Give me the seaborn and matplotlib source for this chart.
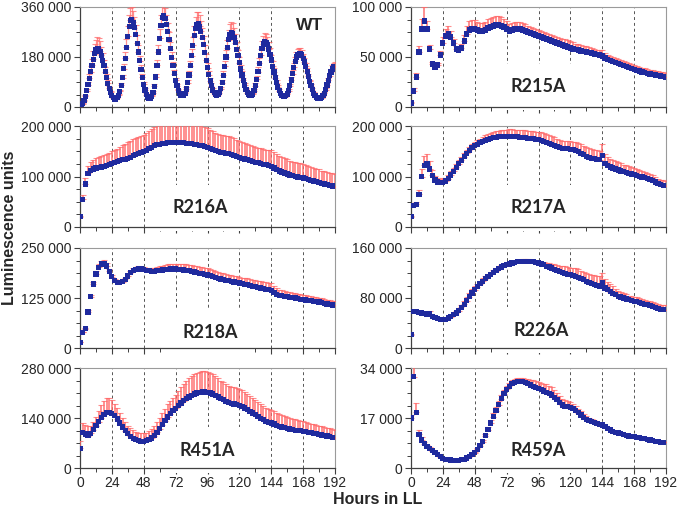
import numpy as np
import matplotlib
matplotlib.use("Agg")
import matplotlib.pyplot as plt
from matplotlib.ticker import MultipleLocator, FuncFormatter
import seaborn as sns

# sampling times (hours in LL): WT read every hour, mutants every 2 h
wt_hours = np.arange(0, 193, 1)
hours = np.arange(0, 193, 2)

# mean luminescence (thousands) and upper SD (thousands)
wt_mean = [3, 6, 12, 22, 38, 58, 80, 103, 127, 150, 172, 192,
           205, 212, 209, 200, 186, 168, 148, 127, 106, 86, 68, 53,
           41, 33, 29, 29, 33, 42, 57, 78, 105, 138, 175, 215,
           255, 290, 312, 316, 305, 285, 260, 230, 198, 166, 135, 107,
           82, 61, 45, 35, 31, 32, 38, 52, 75, 108, 150, 198,
           248, 292, 322, 328, 318, 298, 272, 242, 210, 178, 148, 120,
           96, 76, 60, 49, 42, 40, 42, 50, 65, 87, 115, 148,
           185, 222, 256, 282, 297, 299, 290, 272, 250, 224, 196, 168,
           141, 116, 94, 76, 61, 51, 45, 43, 45, 52, 66, 87,
           114, 146, 180, 213, 243, 262, 269, 264, 250, 231, 208, 184,
           160, 137, 115, 96, 79, 64, 52, 44, 40, 41, 47, 59,
           77, 100, 127, 157, 186, 211, 228, 235, 233, 224, 209, 190,
           169, 147, 126, 106, 88, 72, 59, 48, 41, 37, 37, 40,
           47, 59, 76, 97, 120, 143, 164, 180, 190, 194, 193, 187,
           176, 162, 146, 128, 110, 92, 76, 62, 50, 41, 35, 32,
           31, 31, 34, 40, 50, 63, 79, 96, 112, 126, 137, 144, 147]
wt_err = [0.5, 1, 2, 3, 5, 8, 11, 15, 19, 24, 29, 34,
          38, 40, 39, 36, 31, 26, 21, 17, 13, 10, 7, 5,
          4, 3, 3, 3, 3, 4, 5, 8, 12, 17, 23, 30,
          37, 42, 44, 44, 42, 38, 34, 29, 24, 19, 15, 11,
          8, 6, 4, 3, 3, 3, 4, 5, 8, 12, 18, 26,
          33, 38, 40, 40, 38, 35, 31, 27, 23, 19, 15, 12,
          9, 7, 5, 4, 4, 4, 4, 5, 7, 10, 14, 19,
          25, 31, 37, 41, 44, 44, 42, 39, 35, 31, 27, 23,
          19, 15, 12, 9, 7, 5, 4, 4, 4, 5, 7, 10,
          14, 19, 24, 29, 34, 37, 38, 37, 34, 31, 27, 23,
          20, 16, 13, 10, 8, 6, 5, 4, 4, 4, 5, 6,
          9, 12, 16, 20, 24, 27, 29, 30, 30, 28, 26, 23,
          20, 17, 14, 11, 9, 7, 5, 4, 4, 3, 3, 4,
          5, 6, 8, 10, 12, 14, 16, 17, 18, 18, 18, 17,
          16, 15, 13, 11, 9, 7, 6, 5, 4, 3, 3, 3,
          3, 3, 3, 4, 5, 6, 8, 9, 11, 12, 13, 14, 15]

r215a_mean = [4, 16, 30, 55, 78, 86, 78, 58, 43, 40,
              42, 52, 64, 71, 73, 70, 64, 58, 57, 59,
              66, 73, 77, 78, 78, 77, 76, 76, 77, 79,
              80, 81, 82, 82, 81, 80, 78, 76, 77, 78,
              78, 78, 77, 76, 75, 74, 73, 72, 71, 70,
              69, 68, 67, 66, 65, 64, 63, 62, 61, 60,
              59, 58, 57.5, 57, 56, 55.5, 55, 54.5, 54, 53,
              52.5, 52, 51, 49, 47.5, 46.5, 45.5, 44.5, 43.5, 42.5,
              41.5, 40.5, 39.5, 38.5, 37.5, 36.5, 36, 35, 34.5, 33.5,
              33, 32.5, 32, 31.5, 31, 30.5, 30]
r215a_err = [1, 3, 4, 6, 10, 14, 8, 4, 2, 1,
             2, 4, 6, 7, 8, 6, 4, 3, 3, 4,
             6, 8, 9, 9, 9, 8, 8, 8, 8, 9,
             9, 9, 9, 9, 9, 8, 8, 7, 7, 7,
             7, 7, 7, 7, 6, 6, 6, 6, 6, 6,
             6, 6, 6, 6, 6, 6, 6, 6, 7, 7,
             7, 7, 6, 6, 6, 6, 6, 6, 5, 5,
             5, 5, 6, 5, 5, 5, 5, 5, 5, 4.5,
             4.5, 4.5, 4.5, 4.5, 4.5, 4.5, 4.5, 4.5, 4.5, 4.5,
             4.5, 4.5, 4.5, 4.5, 4.5, 4.5, 4.5]

r216a_mean = [20, 55, 85, 106, 112, 115, 117, 118, 119, 120,
              122, 124, 126, 127, 129, 131, 133, 134, 136, 138,
              141, 143, 145, 147, 149, 152, 155, 158, 161, 163,
              164, 165, 166, 167, 168, 168, 168, 168, 167.5, 167,
              166, 166, 165, 164, 163, 162, 161, 159, 157, 155,
              153, 151, 149.5, 148, 147, 146, 145, 144, 142, 140,
              138, 136, 134.5, 133, 131, 129.5, 128, 127, 126, 124.5,
              123, 122, 120, 117, 114, 111, 109, 107, 105, 103,
              101.5, 100, 99, 98, 97, 95.5, 94, 92.5, 91, 89.5,
              88, 86.5, 85, 83.5, 82, 81, 80]
r216a_err = [2, 8, 12, 15, 17, 18, 20, 21, 21, 22,
             22, 23, 24, 25, 26, 27, 29, 31, 32, 33,
             34, 34, 34, 34, 34, 35, 36, 37, 38, 38,
             38, 38, 38, 38, 38, 38, 38, 38, 39, 39,
             40, 40, 40, 40, 40, 40, 40, 40, 40, 38,
             37, 36, 35, 35, 35, 35, 35, 35, 34, 33,
             32, 32, 32, 31, 31, 31, 30, 30, 30, 30,
             30, 30, 32, 31, 30, 30, 30, 29, 29, 28,
             28, 28, 28, 28, 28, 27, 27, 27, 26, 26,
             26, 25, 25, 25, 25, 25, 25]

r217a_mean = [20, 42, 45, 65, 100, 122, 125, 115, 102, 93,
              89, 88, 88.5, 91, 96, 103, 110, 118, 125, 132,
              139, 146, 152, 157, 161, 164, 167, 170, 172, 174,
              176, 177, 178, 179, 179.5, 180, 180, 180, 179.5, 179,
              178.5, 178, 177, 176.5, 176, 175.5, 175, 174, 173, 172,
              170, 168, 166, 164, 162, 159, 157, 156, 155.5, 155,
              154, 153, 151, 149, 146, 143, 140, 138, 136, 135,
              134, 133, 142, 126, 122, 119, 117, 115, 113, 111,
              109.5, 108, 106.5, 105, 104, 102, 100.5, 99, 97.5, 96,
              94, 92, 89, 86, 84, 82.5, 82]
r217a_err = [2, 4, 5, 8, 14, 19, 20, 15, 10, 8,
             8, 8, 8, 7, 7, 7, 7, 7, 7, 7,
             7, 7, 7, 7, 7, 8, 8, 9, 10, 10,
             11, 11, 12, 12, 12, 13, 13, 14, 14, 14,
             14, 14, 15, 15, 15, 15, 15, 15, 16, 16,
             16, 16, 16, 16, 16, 16, 16, 15, 15, 15,
             16, 16, 17, 17, 18, 18, 18, 18, 18, 18,
             18, 18, 22, 18, 17, 16, 16, 16, 15, 15,
             14, 14, 14, 13, 13, 12, 12, 12, 11, 11,
             11, 10, 10, 10, 10, 10, 10]

r218a_mean = [14, 39, 48, 90, 128, 160, 185, 202, 210, 211,
              205, 192, 178, 168, 164, 164, 166, 172, 180, 188,
              194, 197, 198, 197.5, 196, 194, 193, 192, 192, 193,
              194, 195, 196, 197, 197.5, 197.5, 197.5, 197, 196, 195,
              194, 193, 191.5, 190, 188.5, 187, 185.5, 184, 182.5, 180.5,
              178.5, 176.5, 174.5, 172.5, 171, 169.5, 168, 166.5, 165, 164,
              162.5, 161, 159.5, 158, 156, 154.5, 153, 151.5, 150, 148.5,
              147, 145.5, 144, 138, 134, 132, 130.5, 129, 128, 127,
              126, 125, 123.5, 122, 121, 120, 119, 118, 117, 116,
              115, 113, 111.5, 110, 108.5, 107.5, 107]
r218a_err = [1, 2, 3, 4, 5, 6, 7, 8, 8, 8,
             7, 6, 5, 4, 4, 4, 4, 4, 5, 5,
             6, 6, 6, 6, 7, 7, 8, 8, 8, 9,
             10, 11, 12, 13, 13, 13, 13.5, 14, 14, 14.5,
             15, 15, 15.5, 16, 16, 16.5, 17, 17, 17, 16.5,
             16.5, 16, 16, 15.5, 15.5, 15, 15, 15, 15, 15,
             15, 15, 15.5, 16, 16, 16.5, 17, 17, 17, 17,
             17, 17, 18, 16, 15, 14, 14, 13.5, 13, 13,
             12.5, 12.5, 12, 12, 12, 12, 11.5, 11.5, 11.5, 11,
             11, 11, 11, 11, 11, 11, 11]

r226a_mean = [21, 58, 58, 57, 56, 55, 54, 55, 51, 49,
              47, 46, 45.5, 46, 48, 50, 53, 56, 60, 65,
              70, 76, 82, 88, 93, 98, 103, 107, 111, 115,
              118, 121, 124, 127, 129.5, 131.5, 133, 134.5, 136, 137,
              138, 138.5, 139, 139, 139, 138.5, 138, 137, 136, 134.5,
              133, 131, 129.5, 128, 126, 124.5, 123, 121, 119.5, 118,
              117, 116, 114.5, 113, 111, 109, 107, 105, 103, 101.5,
              100, 99, 104, 96, 93, 90, 87.5, 85, 83, 81.5,
              80, 78.5, 77, 76, 75, 74, 73, 71.5, 70, 69,
              67.5, 66.5, 65, 63.5, 62, 61.5, 61]
r226a_err = [1, 2, 2, 2, 2, 2, 2, 4, 2, 1.5,
             1.5, 1.5, 1.5, 2, 2, 2.5, 3, 3, 3.5, 4,
             4.5, 5, 5.5, 6, 6, 5, 5, 4.5, 4.5, 4,
             4, 3.5, 3.5, 3, 3, 3, 3, 3, 3, 3,
             3, 3, 3, 3, 3, 3, 3, 3, 3, 3.5,
             4, 5, 6, 7, 8, 8.5, 9, 10, 11, 11,
             11, 12, 13, 13, 13, 13, 13.5, 14, 14.5, 15,
             15, 15.5, 16, 14, 13, 12, 11, 10, 9, 8.5,
             8, 7.5, 7, 7, 7, 7, 7, 7, 7, 7,
             7, 7, 7.5, 7.5, 7.5, 8, 8]

r451a_mean = [55, 100, 95, 90, 97, 107, 118, 130, 141, 150,
              155, 156, 153, 146, 137, 126, 115, 105, 96, 89,
              83, 79, 76, 75, 75, 76, 79, 84, 91, 100,
              110, 121, 132, 143, 152, 160, 167, 175, 182, 188,
              194, 199, 203, 207, 210, 212, 213, 213, 212, 210,
              207, 203, 199, 195, 191, 187, 184, 181, 179, 177,
              175, 172, 168, 164, 159, 154, 149, 144, 139, 135,
              131, 128, 126, 123, 120, 117, 115, 113, 111, 109,
              107.5, 106, 105, 104, 103, 101.5, 100, 98.5, 97, 95.5,
              94, 92.5, 91, 89.5, 88, 86, 85]
r451a_err = [20, 26, 25, 27, 22, 22, 25, 30, 35, 38,
             40, 40, 38, 34, 30, 27, 25, 24, 23, 23,
             23, 23, 23, 23, 23, 23, 24, 25, 26, 28,
             30, 32, 34, 35, 36, 37, 38, 41, 44, 47,
             50, 52, 54, 56, 57, 58, 58, 58, 58, 57,
             56, 54, 52, 50, 49, 48, 47, 47, 47, 47,
             47, 46, 45, 44, 43, 42, 41, 40, 39, 38,
             37, 37, 37, 36, 35, 34, 33, 32, 32, 31,
             30, 30, 29, 29, 28, 28, 27, 26, 26, 25,
             25, 24, 24, 23, 23, 22, 22]

r459a_mean = [17, 31, 19, 11.5, 9.5, 8.3, 7.4, 6.6, 5.9, 5.2,
              4.5, 3.8, 3.3, 3.0, 2.8, 2.7, 2.6, 2.6, 2.6, 2.8,
              3.0, 3.4, 3.9, 4.5, 5.2, 6.3, 7.6, 9.0, 11.0, 13.0,
              15.3, 17.5, 19.5, 21.5, 23.5, 25.2, 26.7, 27.8, 28.6, 29.1,
              29.4, 29.5, 29.3, 29.0, 28.6, 28.2, 27.8, 27.4, 27.0, 26.6,
              26.2, 25.8, 25.3, 24.8, 24.1, 23.2, 22.2, 21.4, 21.0, 20.9,
              20.6, 20.1, 19.5, 18.8, 18.0, 17.2, 16.6, 16.2, 15.8, 15.5,
              15.2, 14.9, 14.6, 14.0, 13.4, 12.9, 12.5, 12.2, 11.9, 11.6,
              11.3, 11.1, 10.9, 10.8, 10.7, 10.5, 10.3, 10.1, 9.9, 9.7,
              9.5, 9.3, 9.1, 8.9, 8.8, 8.7, 8.7]
r459a_err = [1, 4, 3, 1.5, 1, 0.7, 0.5, 0.4, 0.3, 0.3,
             0.3, 0.3, 0.3, 0.3, 0.3, 0.3, 0.3, 0.3, 0.3, 0.3,
             0.3, 0.3, 0.3, 0.3, 0.3, 0.4, 0.5, 0.6, 0.7, 0.8,
             1.0, 1.1, 1.2, 1.2, 1.3, 1.3, 1.3, 1.2, 1.2, 1.1,
             1.1, 1.1, 1.2, 1.4, 1.6, 1.8, 2.0, 2.2, 2.3, 2.4,
             2.5, 2.6, 2.6, 2.6, 2.5, 2.4, 2.3, 2.1, 2.0, 1.9,
             1.8, 1.7, 1.6, 1.4, 1.3, 1.1, 1.0, 0.9, 0.8, 0.7,
             0.6, 0.5, 0.5, 0.4, 0.4, 0.3, 0.3, 0.3, 0.3, 0.3,
             0.3, 0.3, 0.3, 0.3, 0.3, 0.3, 0.3, 0.3, 0.3, 0.3,
             0.3, 0.3, 0.3, 0.3, 0.3, 0.3, 0.3]

labels = ["WT", "R215A", "R216A", "R217A", "R218A", "R226A", "R451A", "R459A"]
y_max = [360000, 100000, 200000, 200000, 250000, 160000, 280000, 34000]
times = [wt_hours] + [hours] * 7
means = [wt_mean, r215a_mean, r216a_mean, r217a_mean,
         r218a_mean, r226a_mean, r451a_mean, r459a_mean]
errs = [wt_err, r215a_err, r216a_err, r217a_err,
        r218a_err, r226a_err, r451a_err, r459a_err]
day_lines = [24, 48, 72, 96, 120, 144, 168]

# layout (pixels of a 677x515 figure)
W, H = 677, 515
col_left = [80, 411]
col_width = 255
row_span = [(7, 107), (126, 227), (248, 348), (368, 468)]
label_pos = [(0.90, 0.82), (0.50, 0.20), (0.47, 0.19), (0.50, 0.19),
             (0.51, 0.16), (0.51, 0.18), (0.50, 0.18), (0.50, 0.18)]

sns.set_style("ticks")
plt.rcParams['font.family'] = ['Liberation Sans', 'DejaVu Sans']

fig = plt.figure(figsize=(W / 100, H / 100), dpi=100)


def space_thousands(v, pos):
    return f"{int(round(v)):,}".replace(",", " ")


for i, name in enumerate(labels):
    row, col = divmod(i, 2)
    top, bottom = row_span[row]
    ax = fig.add_axes([col_left[col] / W, 1 - bottom / H,
                       col_width / W, (bottom - top) / H])

    t = times[i]
    mean = np.array(means[i]) * 1000
    err = np.array(errs[i]) * 1000

    for h in day_lines:
        ax.axvline(h, color='#555555', lw=0.7, ls=(0, (3, 3)), zorder=1)

    # upper SD only, drawn as a dense red fringe above the points
    ax.errorbar(t, mean, yerr=[np.zeros_like(err), err], fmt='none',
                ecolor='#ff6a6a', elinewidth=1.4 if i else 0.9,
                capsize=2.2, capthick=0.8, alpha=0.75, zorder=3)
    sns.scatterplot(x=t, y=mean, marker='s', s=14, color='#1f2a9e',
                    edgecolor='none', linewidth=0, ax=ax, zorder=4, legend=False)

    ax.set_xlim(0, 192)
    ax.set_ylim(0, y_max[i])
    ax.set_xlabel('')
    ax.set_ylabel('')

    ax.xaxis.set_major_locator(MultipleLocator(24))
    ax.xaxis.set_minor_locator(MultipleLocator(12))
    ax.yaxis.set_major_locator(MultipleLocator(y_max[i] / 2))
    ax.yaxis.set_minor_locator(MultipleLocator(y_max[i] / 8))
    ax.yaxis.set_major_formatter(FuncFormatter(space_thousands))
    ax.tick_params(which='major', direction='out', length=4, width=0.8,
                   color='#404040', labelsize=10, pad=2)
    ax.tick_params(which='minor', direction='out', length=3, width=0.7,
                   color='#404040')
    if row < 3:
        ax.tick_params(axis='x', labelbottom=False)

    for side in ['left', 'bottom']:
        ax.spines[side].set_color('#404040')
        ax.spines[side].set_linewidth(0.9)
    for side in ['top', 'right']:
        ax.spines[side].set_visible(True)
        ax.spines[side].set_color('#9a9a9a')
        ax.spines[side].set_linewidth(0.8)

    if name == "WT":
        ax.text(*label_pos[i], name, transform=ax.transAxes, ha='center', va='center',
                fontsize=12.5, fontweight='bold', zorder=2,
                bbox=dict(boxstyle='square,pad=1.0', fc='white', ec='none'))
    else:
        ax.text(*label_pos[i], name, transform=ax.transAxes, ha='center', va='center',
                fontsize=13, fontweight='bold', family=['Lato', 'DejaVu Sans'], zorder=2,
                bbox=dict(boxstyle='square,pad=0.8', fc='white', ec='none'))

fig.text(10 / W, 1 - 228 / H, 'Luminescence units', rotation=90, ha='center',
         va='center', fontsize=11.5, fontweight='bold')
fig.text(378 / W, 1 - 500 / H, 'Hours in LL', ha='center', va='center',
         fontsize=11.5, fontweight='bold')

fig.savefig('out.png', dpi=100)
